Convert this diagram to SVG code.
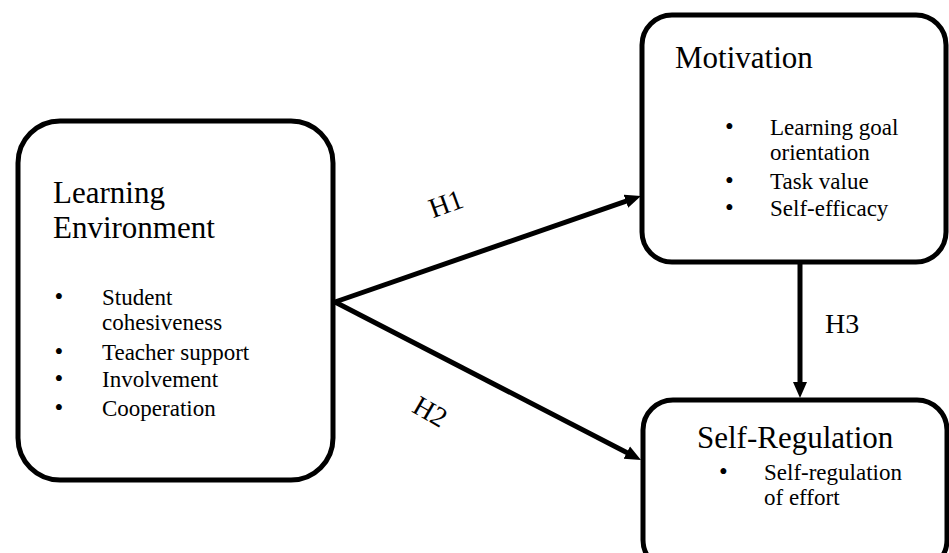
<svg xmlns="http://www.w3.org/2000/svg" width="949" height="553" viewBox="0 0 949 553">
  <style>
    .box { fill: #ffffff; stroke: #000000; stroke-width: 5; }
    .title { font-family: "Liberation Serif", "Times New Roman", serif; font-size: 31px; fill: #000000; }
    .item { font-family: "Liberation Serif", "Times New Roman", serif; font-size: 23px; fill: #000000; }
    .bullet { font-size: 25px; }
    .hyp { font-family: "Liberation Serif", "Times New Roman", serif; font-size: 28px; fill: #000000; }
    .edge { stroke: #000000; stroke-width: 5; fill: none; marker-end: url(#head); }
  </style>
  <defs>
    <marker id="head" viewBox="0 0 16 16" refX="8" refY="8" markerWidth="16" markerHeight="16" markerUnits="userSpaceOnUse" orient="auto">
      <path d="M0,1 L16,8 L0,15 z" fill="#000000"/>
    </marker>
  </defs>
  <rect width="949" height="553" fill="#ffffff"/>

  <g id="learning-environment">
    <rect class="box" x="18" y="121" width="315" height="359" rx="42" ry="42"/>
    <text class="title" x="53" y="203">Learning</text>
    <text class="title" x="53" y="238">Environment</text>
    <text class="item"><tspan class="bullet" x="54.5" y="305">•</tspan><tspan x="102">Student</tspan></text>
    <text class="item" x="102" y="330">cohesiveness</text>
    <text class="item"><tspan class="bullet" x="54.5" y="360">•</tspan><tspan x="102">Teacher support</tspan></text>
    <text class="item"><tspan class="bullet" x="54.5" y="387">•</tspan><tspan x="102">Involvement</tspan></text>
    <text class="item"><tspan class="bullet" x="54.5" y="416">•</tspan><tspan x="102">Cooperation</tspan></text>
  </g>

  <g id="motivation">
    <rect class="box" x="642" y="15" width="304" height="247" rx="30" ry="30"/>
    <text class="title" x="675" y="68">Motivation</text>
    <text class="item"><tspan class="bullet" x="725" y="135">•</tspan><tspan x="770">Learning goal</tspan></text>
    <text class="item" x="770" y="160">orientation</text>
    <text class="item"><tspan class="bullet" x="725" y="189">•</tspan><tspan x="770">Task value</tspan></text>
    <text class="item"><tspan class="bullet" x="725" y="216">•</tspan><tspan x="770">Self-efficacy</tspan></text>
  </g>

  <g id="self-regulation">
    <rect class="box" x="643" y="400" width="304" height="170" rx="30" ry="30"/>
    <text class="title" x="697" y="448">Self-Regulation</text>
    <text class="item"><tspan class="bullet" x="719" y="480">•</tspan><tspan x="764">Self-regulation</tspan></text>
    <text class="item" x="764" y="505">of effort</text>
  </g>

  <g id="connectors">
    <line class="edge" x1="335" y1="302" x2="633.4" y2="198.6"/>
    <line class="edge" x1="335" y1="302" x2="633.9" y2="456.3"/>
    <line class="edge" x1="800" y1="263" x2="800" y2="390"/>
    <text class="hyp" x="446" y="213" text-anchor="middle" transform="rotate(-20 446 204)">H1</text>
    <text class="hyp" x="430" y="421" text-anchor="middle" transform="rotate(30 430 412)">H2</text>
    <text class="hyp" x="825" y="333">H3</text>
  </g>
</svg>
